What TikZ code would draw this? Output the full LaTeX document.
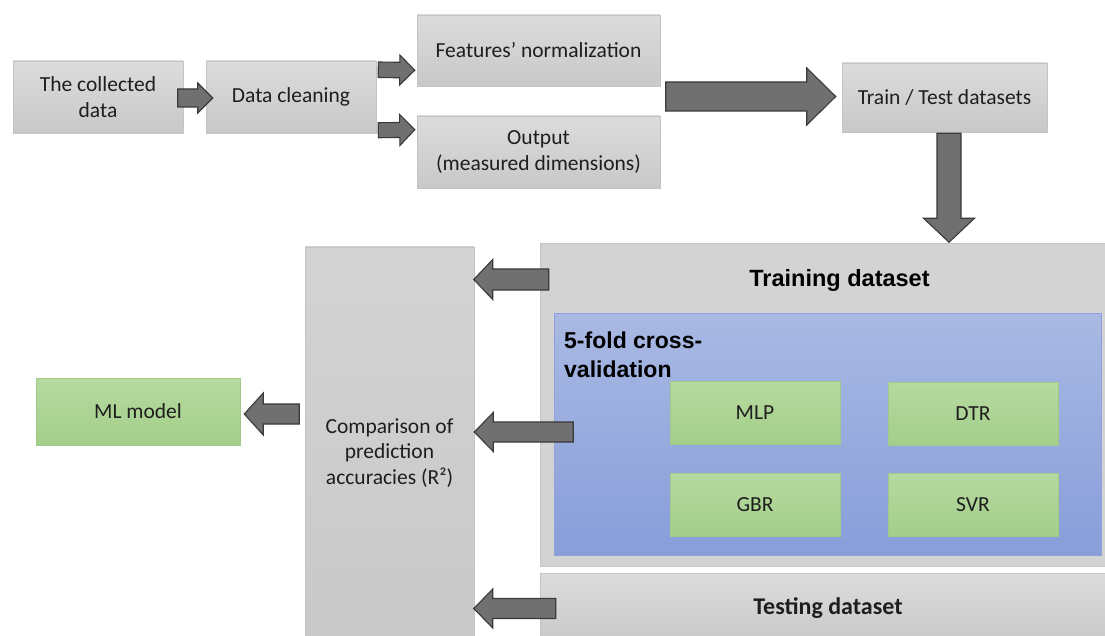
\documentclass[tikz,border=0pt]{standalone}
\usepackage{fontspec}
\setmainfont{Carlito}
\newfontfamily\arialfont{Liberation Sans}
\usetikzlibrary{calc}
\definecolor{boxtop}{HTML}{DCDCDC}
\definecolor{boxbot}{HTML}{C8C8C8}
\definecolor{boxedge}{HTML}{C4C4C4}
\definecolor{bigbox}{HTML}{D3D3D3}
\definecolor{arrowfill}{HTML}{707070}
\definecolor{arrowline}{HTML}{3A3A3A}
\definecolor{bluetop}{HTML}{A9B9E3}
\definecolor{bluebot}{HTML}{889EDA}
\definecolor{blueedge}{HTML}{8FA3DA}
\definecolor{greentop}{HTML}{B6DAA0}
\definecolor{greenbot}{HTML}{A3CE89}
\definecolor{greenedge}{HTML}{A0C98A}
\definecolor{txt}{HTML}{1E1E1E}
\newcommand\blockarrow[5]{%
  \coordinate (ba-s) at #1;
  \coordinate (ba-e) at #2;
  \coordinate (ba-h) at ($(ba-e)!#5!(ba-s)$);
  \draw[barrow] ($(ba-s)!#3!90:(ba-e)$) -- ($(ba-h)!#3!90:(ba-e)$) -- ($(ba-h)!#4!90:(ba-e)$) -- (ba-e)
     -- ($(ba-h)!#4!-90:(ba-e)$) -- ($(ba-h)!#3!-90:(ba-e)$) -- ($(ba-s)!#3!-90:(ba-e)$) -- cycle;
}
\begin{document}
\begin{tikzpicture}[x=1pt,y=-1pt,
  greybox/.style={rectangle, inner sep=0pt, top color=boxtop, bottom color=boxbot, draw=boxedge,
    line width=0.5pt, text=txt, font=\fontsize{21.5}{25.5}\selectfont, align=center},
  greenbox/.style={rectangle, inner sep=0pt, top color=greentop, bottom color=greenbot, draw=greenedge,
    line width=0.5pt, text=txt, font=\fontsize{21.5}{25.5}\selectfont, align=center,
    minimum width=170pt, minimum height=63pt},
  flatbox/.style={rectangle, inner sep=0pt, fill=bigbox, draw=boxedge, line width=0.5pt, text=txt},
  barrow/.style={fill=arrowfill, draw=arrowline, line width=1.1pt, line join=miter},
  boldarial/.style={text=black, font=\arialfont\bfseries\fontsize{23.5}{29}\selectfont},
]
\useasboundingbox (0,0) rectangle (1105,636);
\fill[white] (0,0) rectangle (1105,636);
\clip (0,0) rectangle (1105,636);

% lower part
\node[flatbox, minimum width=570pt, minimum height=323pt] (tr) at (825,404.5) {};
\node[boldarial, anchor=base] (trl) at (839.5,287) {Training dataset};
\node[rectangle, inner sep=0pt, top color=bluetop, bottom color=bluebot, draw=blueedge, line width=0.6pt,
      minimum width=547pt, minimum height=242pt] (cv) at (827.5,434) {};
\node[boldarial, anchor=north west, inner sep=0pt, align=left, font=\arialfont\bfseries\fontsize{23}{29}\selectfont]
      (cvl) at (564,332) {5-fold cross-\\validation};
\node[greenbox] (mlp) at (755,413) {MLP};
\node[greenbox] (dtr) at (973,414) {DTR};
\node[greenbox] (gbr) at (755,504.5) {GBR};
\node[greenbox] (svr) at (973,504.5) {SVR};
\node[flatbox, minimum width=570pt, minimum height=70pt, top color=boxtop, bottom color=boxbot,
      font=\bfseries\fontsize{24}{28}\selectfont] (test) at (825,608) {\hspace*{6pt}Testing dataset};
\node[greybox, minimum width=169pt, minimum height=412pt, top color=bigbox, bottom color=boxbot] (cmp) at (389.5,453)
      {Comparison of\\prediction\\accuracies (R²)};
\node[greenbox, minimum width=204pt, minimum height=67pt] (ml) at (138,411.5) {ML model};

% top part
\node[greybox, minimum width=170pt, minimum height=72pt] (cd) at (98,97) {The collected\\data};
\node[greybox, minimum width=170pt, minimum height=72pt] (dc) at (291,97) {Data cleaning};
\node[greybox, minimum width=243pt, minimum height=71pt] (fn) at (538.5,50.5) {Features’ normalization};
\node[greybox, minimum width=243pt, minimum height=72pt] (out) at (538.5,152) {Output\\(measured dimensions)};
\node[greybox, minimum width=205pt, minimum height=69pt] (tt) at (944.5,97.5) {Train / Test datasets};

% block arrows
\blockarrow{($(cd.east)+(-5.5,1)$)}{($(dc.west)+(7,1)$)}{9pt}{15pt}{15pt}
\blockarrow{($(dc.north east)+(2,9)$)}{($(fn.south west)+(-2,-16)$)}{7.75pt}{15pt}{15pt}
\blockarrow{($(dc.south east)+(2,-3)$)}{($(out.north west)+(-2,14)$)}{7.5pt}{15.5pt}{15pt}
\blockarrow{($(tt.west)+(-176,-1)$)}{($(tt.west)+(-6,-1)$)}{14.5pt}{28.5pt}{29pt}
\blockarrow{($(tt.south)+(4.5,1)$)}{($(tt.south)+(4.5,110)$)}{12pt}{25.5pt}{24pt}
\blockarrow{($(tr.west)+(9,-125)$)}{($(tr.west)+(-66,-125)$)}{10.5pt}{20pt}{19pt}
\blockarrow{($(cmp.east)+(99,-21)$)}{($(cmp.east)+(0,-21)$)}{10pt}{19.5pt}{19pt}
\blockarrow{($(test.west)+(16,0.5)$)}{($(test.west)+(-66,0.5)$)}{10pt}{19.5pt}{19pt}
\blockarrow{($(ml.east)+(59,2.5)$)}{($(ml.east)+(4,2.5)$)}{10pt}{21pt}{19pt}
\end{tikzpicture}
\end{document}
